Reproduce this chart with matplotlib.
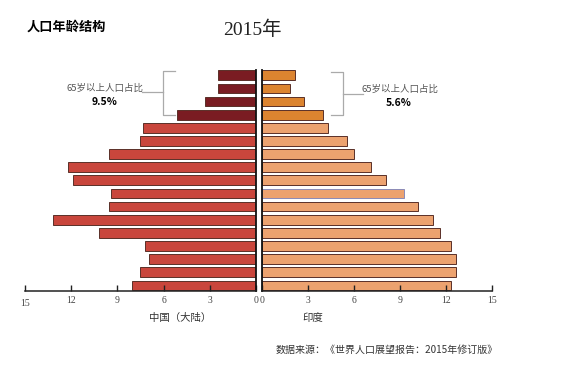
import matplotlib
matplotlib.use("Agg")
import matplotlib.pyplot as plt
from matplotlib.lines import Line2D

plt.rcParams['font.family'] = ['Noto Sans CJK SC', 'DejaVu Sans']

# Age groups from oldest (top) to youngest (bottom)
age_groups = ["80+", "75-79", "70-74", "65-69", "60-64", "55-59", "50-54", "45-49",
              "40-44", "35-39", "30-34", "25-29", "20-24", "15-19", "10-14", "5-9", "0-4"]
china = [2.47, 2.47, 3.29, 5.14, 7.32, 7.51, 9.55, 12.2, 11.9, 9.4, 9.55, 13.2, 10.2, 7.2, 6.95, 7.51, 8.05]
india = [2.15, 1.8, 2.76, 3.96, 4.3, 5.54, 6.0, 7.11, 8.07, 9.28, 10.18, 11.18, 11.64, 12.3, 12.68, 12.68, 12.3]
old_flags = [True, True, True, True] + [False] * 13
ticks = [0, 3, 6, 9, 12, 15]
title = "人口年龄结构"
year_title = "2015年"
china_label = "中国（大陆）"
india_label = "印度"
note_text = "65岁以上人口占比"
china_old_share = "9.5%"
india_old_share = "5.6%"
source = "数据来源：《世界人口展望报告：2015年修订版》"

W, H = 572, 368
fig = plt.figure(figsize=(W / 100, H / 100), dpi=100)

def fx(px):
    return px / W

def fy(py):
    return 1 - py / H

n = len(age_groups)
ypos = list(range(n - 1, -1, -1))
bar_h = 0.74
top_px, bot_px = 70.0, 290.7
ax_b = fy(bot_px)
ax_h = (bot_px - top_px) / H

axL = fig.add_axes([fx(25), ax_b, fx(256 - 25), ax_h])
axR = fig.add_axes([fx(262), ax_b, fx(492 - 262), ax_h])

c_old_cn, c_young_cn = "#7a1c22", "#c9463c"
c_old_in, c_young_in = "#dc8430", "#eca26f"
edge = "#5a3028"

for y, v, old in zip(ypos, china, old_flags):
    axL.barh(y, v, height=bar_h, color=c_old_cn if old else c_young_cn,
             edgecolor=edge, linewidth=0.7)
for i, (y, v, old) in enumerate(zip(ypos, india, old_flags)):
    ec = "#8a8ab8" if i == 9 else edge
    axR.barh(y, v, height=bar_h, color=c_old_in if old else c_young_in,
             edgecolor=ec, linewidth=0.7)

for ax in (axL, axR):
    ax.set_xlim(0, 15)
    ax.set_ylim(-0.4, n - 1 + 0.4)
    ax.set_yticks([])
    ax.spines['top'].set_visible(False)
    ax.set_xticks(ticks)
    ax.set_xticklabels([str(t) for t in ticks], family=['Liberation Serif'],
                       fontsize=7, color="#444444")
    ax.tick_params(axis='x', direction='in', length=4, width=1, pad=4, color="#222222")
    ax.spines['bottom'].set_linewidth(1.1)
    ax.spines['bottom'].set_color("#222222")

axL.invert_xaxis()
axL.spines['left'].set_visible(False)
axL.spines['right'].set_linewidth(1.3)
axL.spines['right'].set_color("#111111")
axR.spines['right'].set_visible(False)
axR.spines['left'].set_linewidth(1.3)
axR.spines['left'].set_color("#111111")

# "15" label on left axis sits slightly lower
for lbl in axL.get_xticklabels():
    if lbl.get_text() == "15":
        lbl.set_y(-0.013)

# Titles and labels
fig.text(fx(27), fy(27), title, fontsize=9.5, fontweight='bold', ha='left', va='center')
fig.text(fx(252), fy(30), year_title, fontsize=14, ha='center', va='center',
         family=['Liberation Serif', 'Noto Sans CJK SC'], color="#222222")
fig.text(fx(180), fy(318), china_label, fontsize=7.5, ha='center', va='center', color="#333333")
fig.text(fx(313), fy(318), india_label, fontsize=7.5, ha='center', va='center', color="#333333")
fig.text(fx(498), fy(350), source, fontsize=7.2, ha='right', va='center', color="#333333")

# Brackets
gray = "#aaaaaa"
def line(xs, ys):
    fig.add_artist(Line2D([fx(x) for x in xs], [fy(y) for y in ys], color=gray, lw=0.9))

line([175, 163, 163, 175], [71, 71, 115, 115])
line([142, 163], [92, 92])
fig.text(fx(105), fy(88), note_text, fontsize=6.8, ha='center', va='center', color="#555555",
         family=['Noto Sans CJK SC', 'DejaVu Sans'])
fig.text(fx(105), fy(102), china_old_share, fontsize=7.5, fontweight='bold', ha='center', va='center')

line([331, 343, 343, 331], [72, 72, 115, 115])
line([343, 363], [94, 94])
fig.text(fx(400), fy(89), note_text, fontsize=6.8, ha='center', va='center', color="#555555")
fig.text(fx(399), fy(103), india_old_share, fontsize=7.5, fontweight='bold', ha='center', va='center')

fig.savefig("out.png", dpi=100, facecolor="white")
